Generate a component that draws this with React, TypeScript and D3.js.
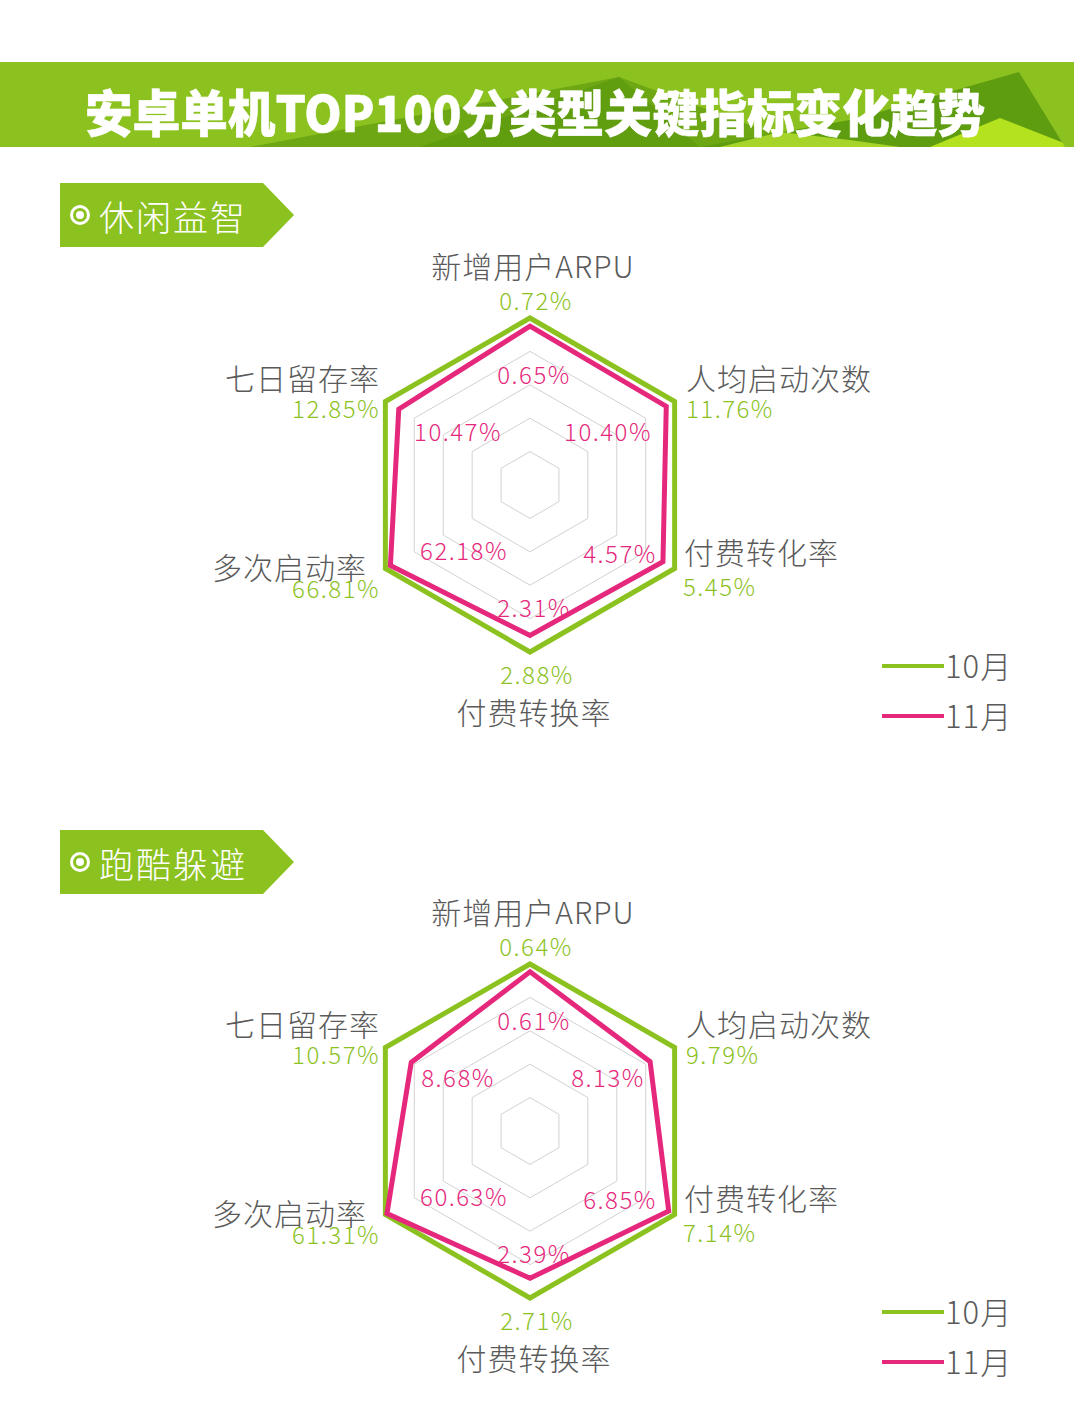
import * as d3 from "d3";

// axis names, clockwise from the top
const axes = ["新增用户ARPU", "人均启动次数", "付费转化率", "付费转换率", "多次启动率", "七日留存率"];
const months = ["10月", "11月"];
const sectionNames = ["休闲益智", "跑酷躲避"];

const casualOct = [0.72, 11.76, 5.45, 2.88, 66.81, 12.85];
const casualNov = [0.65, 10.4, 4.57, 2.31, 62.18, 10.47];
const parkourOct = [0.64, 9.79, 7.14, 2.71, 61.31, 10.57];
const parkourNov = [0.61, 8.13, 6.85, 2.39, 60.63, 8.68];

const GREEN = "#8cc21f";
const PINK = "#e5287c";
const GREY = "#5a5a5a";
const FONT = "'Noto Sans CJK SC', 'Noto Sans', sans-serif";

const R = 167;
const CX = 530;

// label offsets from the centre: [dx, dy, anchor]
const nameLayout: [number, number, string][] = [
  [3, -220, "middle"],
  [156, -108, "start"],
  [154, 66, "start"],
  [4, 226, "middle"],
  [-163, 81, "end"],
  [-150, -108, "end"],
];
const valueLayout: [number, number, string][] = [
  [6, -186, "middle"],
  [156, -78, "start"],
  [153, 100, "start"],
  [7, 188, "middle"],
  [-150, 102, "end"],
  [-150, -78, "end"],
];
const innerLayout: [number, number][] = [
  [4, -112],
  [78, -55],
  [90, 67],
  [4, 121],
  [-66, 64],
  [-72, -55],
];

const fmt = (v: number) => v.toFixed(2) + "%";

function Radar({ oct, nov, cy, base, name, tagTop }: { oct: number[]; nov: number[]; cy: number; base: number; name: string; tagTop: number }) {
  const angle = d3.scaleLinear().domain([0, axes.length]).range([0, 2 * Math.PI]);
  const scales = axes.map((_, i) =>
    d3.scaleLinear().domain([0, Math.max(oct[i], nov[i])]).range([R * base, R])
  );
  const radial = d3
    .lineRadial<number>()
    .angle((_, i) => angle(i))
    .radius((v, i) => scales[i](v))
    .curve(d3.curveLinearClosed);
  const ring = d3
    .lineRadial<number>()
    .angle((_, i) => angle(i))
    .radius((r) => r)
    .curve(d3.curveLinearClosed);
  const levels = d3.range(1, 6).map((k) => (R * k) / 5);

  const tagH = 64;
  const tag = `M60,${tagTop} L263,${tagTop} L294,${tagTop + tagH / 2} L263,${tagTop + tagH} L60,${tagTop + tagH} Z`;
  const legendY = cy + 181;

  return (
    <g>
      <path d={tag} fill={GREEN} />
      <circle cx={80} cy={tagTop + tagH / 2} r={8.5} fill="none" stroke="#fff" strokeWidth={3} />
      <circle cx={80} cy={tagTop + tagH / 2} r={4} fill="#fff" />
      <text x={99} y={tagTop + tagH / 2} fill="#fff" fontSize={35} fontFamily={FONT} fontWeight={300} dominantBaseline="central" letterSpacing={2}>
        {name}
      </text>

      <g transform={`translate(${CX},${cy})`}>
        {levels.map((r) => (
          <path key={r} d={ring(axes.map(() => r)) || ""} fill="none" stroke="#d2d2d2" strokeWidth={1} />
        ))}
        <path d={radial(oct) || ""} fill="none" stroke={GREEN} strokeWidth={5} strokeLinejoin="miter" />
        <path d={radial(nov) || ""} fill="none" stroke={PINK} strokeWidth={5} strokeLinejoin="miter" />

        {axes.map((a, i) => (
          <text key={"n" + i} x={nameLayout[i][0]} y={nameLayout[i][1]} textAnchor={nameLayout[i][2] as any} dominantBaseline="central" fill={GREY} fontSize={30} fontFamily={FONT} fontWeight={300} letterSpacing={1}>
            {a}
          </text>
        ))}
        {oct.map((v, i) => (
          <text key={"o" + i} x={valueLayout[i][0]} y={valueLayout[i][1]} textAnchor={valueLayout[i][2] as any} dominantBaseline="central" fill={GREEN} fontSize={24} fontFamily={FONT} fontWeight={300} letterSpacing={1.5}>
            {fmt(v)}
          </text>
        ))}
        {nov.map((v, i) => (
          <text key={"v" + i} x={innerLayout[i][0]} y={innerLayout[i][1]} textAnchor="middle" dominantBaseline="central" fill={PINK} fontSize={24} fontFamily={FONT} fontWeight={300} letterSpacing={1.5}>
            {fmt(v)}
          </text>
        ))}
      </g>

      {months.map((m, k) => (
        <g key={m} transform={`translate(0,${legendY + k * 50})`}>
          <line x1={882} x2={944} y1={0} y2={0} stroke={k === 0 ? GREEN : PINK} strokeWidth={4} />
          <text x={945} y={-2} dominantBaseline="central" fill={GREY} fontSize={31} fontFamily={FONT} fontWeight={300} letterSpacing={1}>
            {m}
          </text>
        </g>
      ))}
    </g>
  );
}

export default function App() {
  return (
    <svg width={1074} height={1412} style={{ position: "absolute", left: 0, top: 0, background: "#fff" }}>
      {/* header banner */}
      <rect x={0} y={62} width={1074} height={85} fill={GREEN} />
      <polygon points="250,147 619,77 810,147" fill="#6da814" />
      <polygon points="420,147 619,77 700,147" fill="#5e9b0e" opacity={0.8} />
      <polygon points="700,147 855,119 1019,72 1070,147" fill="#5f9d10" />
      <polygon points="720,147 780,132 850,140 900,147" fill="#a6d42a" />
      <polygon points="930,147 1000,118 1074,147" fill="#b4e21f" />
      <polygon points="1019,72 1074,62 1074,147 1065,147" fill="#8cc21f" />
      <text x={535} y={110} textAnchor="middle" dominantBaseline="central" fill="#fff" fontSize={50} fontWeight={900} fontFamily={FONT} textLength={900} lengthAdjust="spacingAndGlyphs" stroke="#fff" strokeWidth={0.6}>
        安卓单机TOP100分类型关键指标变化趋势
      </text>

      <Radar oct={casualOct} nov={casualNov} cy={485} base={0.5} name={sectionNames[0]} tagTop={183} />
      <Radar oct={parkourOct} nov={parkourNov} cy={1131} base={0} name={sectionNames[1]} tagTop={830} />
    </svg>
  );
}
